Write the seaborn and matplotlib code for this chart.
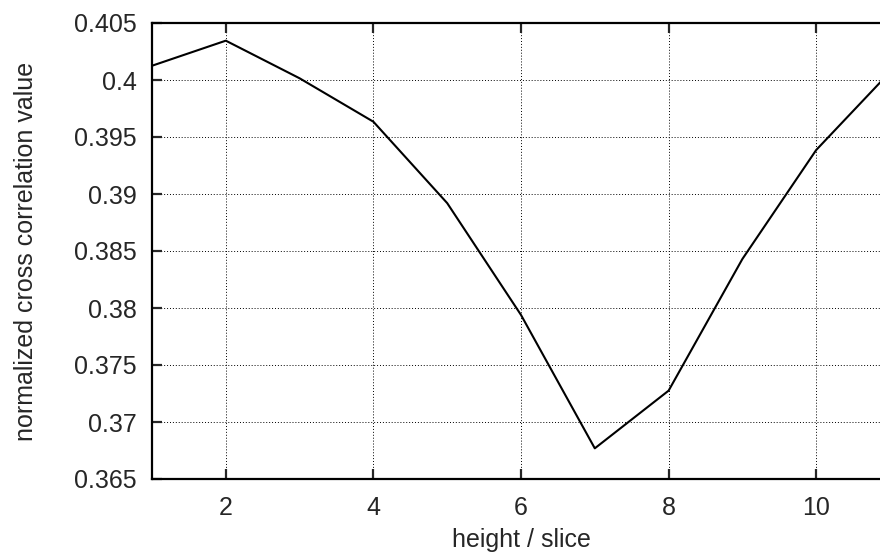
import pandas as pd
import matplotlib.pyplot as plt
import seaborn as sns
from matplotlib.ticker import MultipleLocator, FuncFormatter

# dados
height = [1, 2, 3, 4, 5, 6, 7, 8, 9, 10, 11]
ncc = [0.40125, 0.40345, 0.40015, 0.39634, 0.38920, 0.37939,
       0.36769, 0.37275, 0.38430, 0.39386, 0.40070]

df = pd.DataFrame({"height": height, "ncc": ncc})

sns.set_style("white")
plt.rcParams['font.family'] = ['Liberation Sans', 'DejaVu Sans']

fig = plt.figure(figsize=(8.8, 5.53), dpi=100)
# eixo estendido um pouco alem da borda direita, como no original
ax = fig.add_axes([152 / 880, 74 / 553, 738 / 880, 456 / 553])

sns.lineplot(data=df, x="height", y="ncc", color="black", linewidth=1.5, ax=ax)

ax.set_xlim(1, 11)
ax.set_ylim(0.365, 0.405)
ax.xaxis.set_major_locator(MultipleLocator(2))
ax.yaxis.set_major_locator(MultipleLocator(0.005))
ax.yaxis.set_major_formatter(FuncFormatter(lambda v, p: f"{v:g}"))

ax.grid(True, linestyle=(0, (1, 2)), color="black", linewidth=0.7)
for s in ax.spines.values():
    s.set_linewidth(1.6)
    s.set_color("black")

ax.tick_params(direction="in", length=7, width=1.6, labelsize=18, pad=11,
               top=True, right=True, bottom=True, left=True)
ax.tick_params(axis="x", pad=12)
ax.set_xlabel("height / slice", fontsize=18, labelpad=6)
ax.set_ylabel("normalized cross correlation value", fontsize=18, labelpad=26)

fig.savefig("out.png", dpi=100)
